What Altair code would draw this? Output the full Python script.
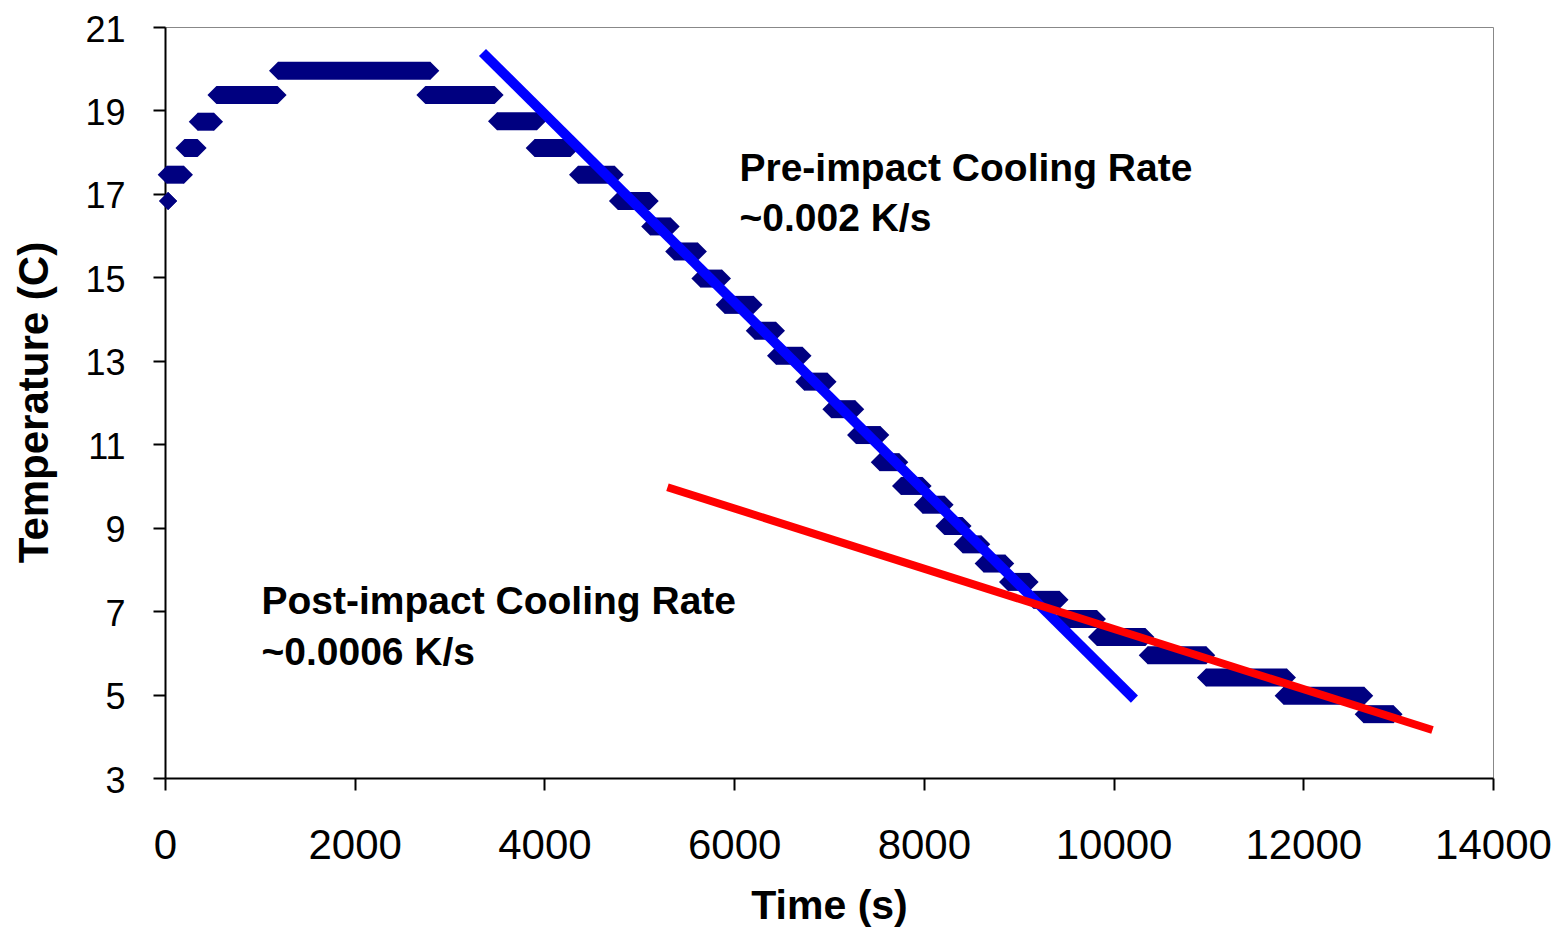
import altair as alt
import pandas as pd

# Step segments of the measured temperature record (time in s, temperature in C)
seg_start = [32, 18, 205, 345, 542, 1191, 2745, 3500, 3897, 4354, 4775, 5115, 5368, 5644,
             5900, 6217, 6441, 6740, 7025, 7285, 7535, 7759, 7988, 8216, 8409, 8630, 8887,
             9155, 9460, 9825, 10360, 10974, 11793, 12637]
seg_end = [32, 200, 344, 517, 1187, 2797, 3475, 3922, 4275, 4741, 5110, 5331, 5618, 5872,
           6205, 6441, 6721, 6985, 7277, 7541, 7741, 7987, 8219, 8408, 8605, 8858, 9115,
           9430, 9825, 10335, 10977, 11828, 12643, 12952]
seg_temp = [16.83, 17.46, 18.10, 18.73, 19.37, 19.95, 19.37, 18.74, 18.10, 17.46, 16.83,
            16.22, 15.62, 14.97, 14.34, 13.72, 13.12, 12.50, 11.84, 11.22, 10.57, 10.00,
            9.55, 9.04, 8.60, 8.14, 7.70, 7.27, 6.81, 6.38, 5.94, 5.41, 4.97, 4.53]

# Fitted cooling-rate lines
pre_time = [3347, 10220]
pre_temp = [20.39, 4.89]
post_time = [5297, 13362]
post_temp = [9.97, 4.15]

# Annotations
note_text = ["Pre-impact Cooling Rate", "~0.002 K/s", "Post-impact Cooling Rate", "~0.0006 K/s"]
note_time = [6056, 6056, 1017, 1017]
note_temp = [17.32, 16.12, 6.94, 5.70]

x_ticks = [0, 2000, 4000, 6000, 8000, 10000, 12000, 14000]
y_ticks = [3, 5, 7, 9, 11, 13, 15, 17, 19, 21]

FONT = "Liberation Sans"
NAVY = "#000080"

segs = pd.DataFrame({"start": seg_start, "end": seg_end, "temp": seg_temp})
pre = pd.DataFrame({"time": pre_time, "temp": pre_temp})
post = pd.DataFrame({"time": post_time, "temp": post_temp})
notes = pd.DataFrame({"text": note_text, "time": note_time, "temp": note_temp})

xscale = alt.Scale(domain=[0, 14000], nice=False, zero=False)
yscale = alt.Scale(domain=[3, 21], nice=False, zero=False)

xaxis = alt.Axis(values=x_ticks, format="d", title="Time (s)", grid=False, labelFontSize=42,
                 labelFont=FONT, labelColor="black", labelFlush=False,
                 labelBaseline="alphabetic", labelPadding=68,
                 tickSize=12, tickWidth=2, tickColor="black",
                 domainColor="black", domainWidth=2,
                 titleFont=FONT, titleFontSize=41, titleFontWeight="bold",
                 titleColor="black", titleBaseline="alphabetic", titleY=140)
yaxis = alt.Axis(values=y_ticks, format="d", title="Temperature (C)", grid=False, labelFontSize=36,
                 labelFont=FONT, labelColor="black", labelPadding=28,
                 labelBaseline="middle", labelFlush=False, labelOffset=3,
                 tickSize=12, tickWidth=2, tickColor="black",
                 domainColor="black", domainWidth=2,
                 titleFont=FONT, titleFontSize=42, titleFontWeight="bold",
                 titleColor="black", titleAngle=270, titleAlign="center",
                 titleBaseline="alphabetic", titleX=-118, titleY=375)

base = alt.Chart(segs)
bars = base.mark_rule(strokeWidth=18, color=NAVY, strokeCap="butt").encode(
    x=alt.X("start:Q", scale=xscale, axis=xaxis),
    x2="end:Q",
    y=alt.Y("temp:Q", scale=yscale, axis=yaxis),
)
ends_a = base.mark_point(shape="diamond", filled=True, size=324, color=NAVY, opacity=1).encode(
    x=alt.X("start:Q", scale=xscale), y=alt.Y("temp:Q", scale=yscale))
ends_b = base.mark_point(shape="diamond", filled=True, size=324, color=NAVY, opacity=1).encode(
    x=alt.X("end:Q", scale=xscale), y=alt.Y("temp:Q", scale=yscale))

pre_line = alt.Chart(pre).mark_line(color="#0000FF", strokeWidth=10, strokeCap="butt").encode(
    x=alt.X("time:Q", scale=xscale), y=alt.Y("temp:Q", scale=yscale))
post_line = alt.Chart(post).mark_line(color="#FF0000", strokeWidth=8, strokeCap="butt").encode(
    x=alt.X("time:Q", scale=xscale), y=alt.Y("temp:Q", scale=yscale))

labels = alt.Chart(notes).mark_text(align="left", baseline="alphabetic", fontSize=39,
                                    fontWeight="bold", font=FONT, color="black").encode(
    x=alt.X("time:Q", scale=xscale), y=alt.Y("temp:Q", scale=yscale), text="text:N")

chart = alt.layer(bars, ends_a, ends_b, pre_line, post_line, labels).properties(
    width=1328, height=751,
    autosize=alt.AutoSizeParams(type="none"),
    padding={"left": 157, "top": 19, "right": 60, "bottom": 150},
    background="white",
).configure_view(stroke="#888888", strokeWidth=1)

chart.save("out.html", embed_options={"renderer": "svg", "actions": False})
